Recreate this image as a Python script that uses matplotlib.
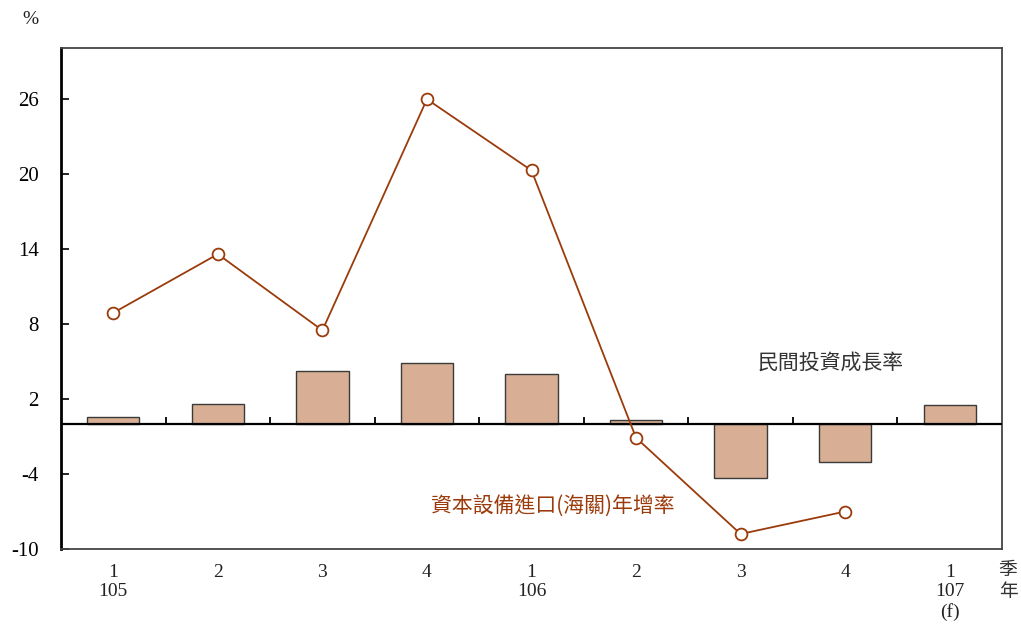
import numpy as np
import matplotlib
matplotlib.use("Agg")
import matplotlib.pyplot as plt
from matplotlib.transforms import blended_transform_factory

# Quarterly data (ROC years 105-107)
quarters = ["1", "2", "3", "4", "1", "2", "3", "4", "1"]
years = ["105", "", "", "", "106", "", "", "", "107\n(f)"]
private_investment = [0.56, 1.6, 4.25, 4.9, 4.0, 0.3, -4.3, -3.0, 1.5]
capital_imports = [8.9, 13.6, 7.5, 26.0, 20.3, -1.1, -8.8, -7.0]
yticks = [-10, -4, 2, 8, 14, 20, 26]

serif = ["Liberation Serif", "DejaVu Serif"]
cjk = ["Noto Sans CJK TC", "DejaVu Sans"]

bar_color = "#D8AF94"
line_color = "#9B3B0C"

fig = plt.figure(figsize=(10.21, 6.24), dpi=100)
ax = fig.add_axes([61 / 1021, 75 / 624, 941 / 1021, 501 / 624])

x = np.arange(len(quarters))
ax.bar(x, private_investment, width=0.5, color=bar_color,
       edgecolor="#3a3a3a", linewidth=1.0, zorder=2)
xl = np.arange(len(capital_imports))
ax.plot(xl, capital_imports, color=line_color, linewidth=1.3, zorder=4,
        marker="o", markersize=8.5, markerfacecolor="white",
        markeredgecolor=line_color, markeredgewidth=1.3)

# zero line with small upward ticks between quarters
ax.axhline(0, color="black", linewidth=1.6, zorder=3)
bounds = x[:-1] + 0.5
ax.vlines(bounds, 0, 0.55, color="black", linewidth=1.3, zorder=3)

ax.set_xlim(-0.5, len(quarters) - 0.5)
ax.set_ylim(-10, 30.1)
ax.set_yticks(yticks)
ax.set_yticklabels([str(v) for v in yticks], family=serif, fontsize=15)
ax.tick_params(axis="y", direction="in", length=6, width=1.2, pad=16,
               colors="black")
ax.set_xticks([])

for side in ["top", "right", "bottom"]:
    ax.spines[side].set_color("#444444")
    ax.spines[side].set_linewidth(1.3)
ax.spines["left"].set_color("black")
ax.spines["left"].set_linewidth(2.0)

# category labels below the axes
trans = blended_transform_factory(ax.transData, ax.transAxes)
for xi, q, y in zip(x, quarters, years):
    label = q if not y else q + "\n" + y
    ax.text(xi, -0.03, label, transform=trans, ha="center", va="top",
            family=serif, fontsize=14, linespacing=1.18, color="#222222")

fig.text(1008 / 1021, 1 - 570 / 624, "季", family=cjk, fontsize=13.5,
         ha="center", va="center", color="#333333")
fig.text(1008 / 1021, 1 - 592 / 624, "年", family=cjk, fontsize=13.5,
         ha="center", va="center", color="#333333")
fig.text(30 / 1021, 1 - 20 / 624, "%", family=serif, fontsize=14,
         ha="center", va="center", color="#222222")

# series labels
ax.text(6.86, 4.9, "民間投資成長率", family=cjk, fontsize=15,
        ha="center", va="center", color="#333333")
ax.text(4.2, -6.65, "資本設備進口(海關)年增率", family=cjk, fontsize=15,
        ha="center", va="center", color=line_color)

fig.savefig("out.png", dpi=100)
